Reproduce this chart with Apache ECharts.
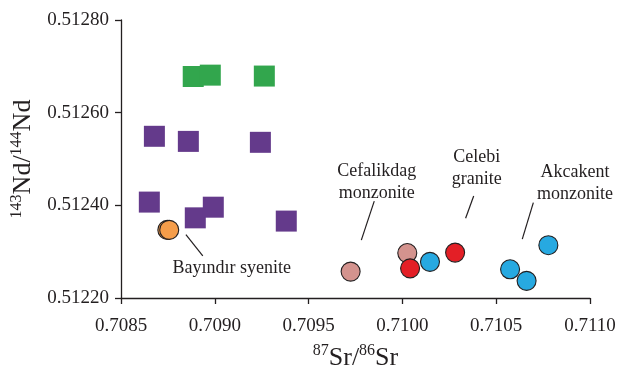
<!DOCTYPE html>
<html>
<head>
<meta charset="utf-8">
<script src="https://cdn.jsdelivr.net/npm/echarts@6/dist/echarts.min.js"></script>
<style>html,body{margin:0;padding:0;background:#fff;}#c{width:617px;height:366px;}</style>
</head>
<body>
<div id="c"></div>
<script>
// Data (87Sr/86Sr, 143Nd/144Nd)
var greenSquares = [[0.708885,0.512678],[0.708976,0.512681],[0.709264,0.512679]];
var purpleSquares = [[0.708678,0.512549],[0.708859,0.512538],[0.709243,0.512536],[0.708651,0.512407],[0.708896,0.512373],[0.708992,0.512396],[0.709381,0.512366]];
var bayindirSyenite = [[0.708747,0.512347],[0.708757,0.512347]];
var cefalikdagMonzonite = [[0.709724,0.512257],[0.710026,0.512297]];
var celebiGranite = [[0.710041,0.512264],[0.710281,0.512298]];
var akcakentMonzonite = [[0.710147,0.512278],[0.710574,0.512262],[0.710662,0.512237],[0.710778,0.512314]];
var xTicks = {min:0.7085, max:0.7110, interval:0.0005};
var yTicks = {min:0.51220, max:0.51280, interval:0.0002};
// Annotations: text anchor and leader line, in data units
var annotations = [
  {text:'Cefalikdag\nmonzonite', at:[0.709863,0.512461], line:[[0.709850,0.512409],[0.709781,0.512325]]},
  {text:'Celebi\ngranite', at:[0.710396,0.512491], line:[[0.710380,0.512420],[0.710337,0.512372]]},
  {text:'Akcakent\nmonzonite', at:[0.710920,0.512459], line:[[0.710698,0.512406],[0.710639,0.512327]]},
  {text:'Bayındır syenite', at:[0.709090,0.512275], line:[[0.708846,0.512337],[0.708936,0.512291]]}
];

var FONT = '"Liberation Serif","DejaVu Serif",serif';
var INK = '#231F20';
var chart = echarts.init(document.getElementById('c'), null, {renderer:'canvas'});

function sq(data, color){
  return {type:'scatter', data:data, symbol:'rect', symbolSize:21, itemStyle:{color:color, opacity:1}, z:2};
}
function circ(data, color){
  return {type:'scatter', data:data, symbol:'circle', symbolSize:19, itemStyle:{color:color, borderColor:INK, borderWidth:1.1, opacity:1}, z:3};
}

var option = {
  animation:false,
  backgroundColor:'#fff',
  grid:{left:121, right:27, top:20, bottom:68, containLabel:false, outerBoundsMode:'none'},
  xAxis:{
    type:'value', min:xTicks.min, max:xTicks.max, interval:xTicks.interval,
    splitLine:{show:false},
    axisLine:{show:true, onZero:false, lineStyle:{color:INK, width:1.3}},
    axisTick:{show:true, length:6, inside:false, lineStyle:{color:INK, width:1.3}},
    axisLabel:{margin:19, color:INK, fontFamily:FONT, fontSize:19, formatter:function(v){return v.toFixed(4);}},
    name:'{sup|87}{m|Sr/}{sup|86}{m|Sr}', nameLocation:'middle', nameGap:45,
    nameTextStyle:{rich:{
      m:{fontFamily:FONT, fontSize:26, color:INK, lineHeight:28, verticalAlign:'bottom'},
      sup:{fontFamily:FONT, fontSize:16, color:INK, lineHeight:28, verticalAlign:'top', padding:[0,0,10,0]}
    }}
  },
  yAxis:{
    type:'value', min:yTicks.min, max:yTicks.max, interval:yTicks.interval,
    splitLine:{show:false},
    axisLine:{show:true, onZero:false, lineStyle:{color:INK, width:1.3}},
    axisTick:{show:true, length:6, inside:false, lineStyle:{color:INK, width:1.3}},
    axisLabel:{margin:12, color:INK, fontFamily:FONT, fontSize:19, formatter:function(v){return v.toFixed(5);}},
    name:'{sup|143}{m|Nd/}{sup|144}{m|Nd}', nameLocation:'middle', nameRotate:90, nameGap:75,
    nameTextStyle:{rich:{
      m:{fontFamily:FONT, fontSize:26, color:INK, lineHeight:28, verticalAlign:'bottom'},
      sup:{fontFamily:FONT, fontSize:16, color:INK, lineHeight:28, verticalAlign:'top', padding:[0,0,10,0]}
    }}
  },
  series:[
    sq(greenSquares,'#32A64D'),
    sq(purpleSquares,'#643A8B'),
    circ(bayindirSyenite,'#F59D4A'),
    circ(cefalikdagMonzonite,'#D4938E'),
    circ(celebiGranite,'#E31F26'),
    circ(akcakentMonzonite,'#27A9E1')
  ]
};
chart.setOption(option);

var g = [];
annotations.forEach(function(a){
  var p = chart.convertToPixel({gridIndex:0}, a.at);
  var l0 = chart.convertToPixel({gridIndex:0}, a.line[0]);
  var l1 = chart.convertToPixel({gridIndex:0}, a.line[1]);
  g.push({type:'line', shape:{x1:l0[0], y1:l0[1], x2:l1[0], y2:l1[1]}, style:{stroke:INK, lineWidth:1.2}, z:5});
  g.push({type:'text', x:p[0], y:p[1] + 5, style:{text:a.text, fill:INK, font:'18px '+FONT, textAlign:'center', textVerticalAlign:'middle', lineHeight:22}, z:5});
});
chart.setOption({graphic:g});
</script>
</body>
</html>
